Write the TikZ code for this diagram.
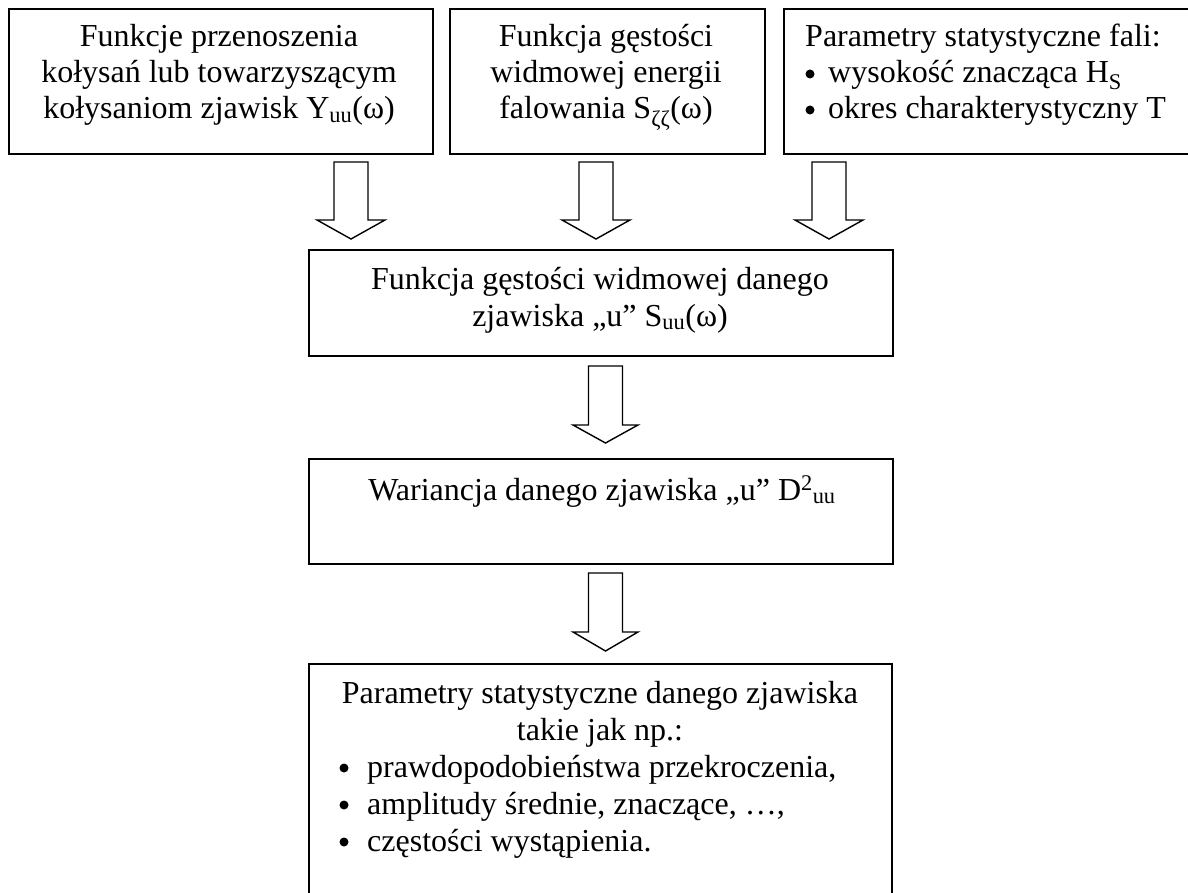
\documentclass[tikz,border=0pt]{standalone}
\usepackage{fontspec}
\setmainfont{Liberation Serif}
\newcommand\blockarr[6]{% x, top, head start, tip, shaft half, head half
  \draw[blk] (#1-#5,#2) -- (#1+#5,#2) -- (#1+#5,#3) -- (#1+#6,#3) -- (#1,#4) -- (#1-#6,#3) -- (#1-#5,#3) -- cycle;}
\begin{document}
\begin{tikzpicture}[x=1pt,y=-1pt,
  box/.style={draw, line width=2pt, anchor=north west, inner sep=0pt},
  txt/.style={inner sep=0pt, anchor=base, font=\fontsize{32}{37}\selectfont},
  txtl/.style={txt, anchor=base west},
  dot/.style={circle, fill=black, draw=none, inner sep=0pt, minimum size=9pt},
  blk/.style={draw, line width=1.4pt, line join=miter, fill=white}]
\useasboundingbox (0,0) rectangle (1188,893);
\fill[white] (0,0) rectangle (1188,893);
\clip (0,0) rectangle (1188,893);

% boxes
\node[box, minimum width=424pt, minimum height=145pt] (b1) at (8,8) {};
\node[box, minimum width=315pt, minimum height=145pt] (b2) at (449,8) {};
\node[box, minimum width=430pt, minimum height=145pt] (b3) at (783,8) {};
\node[box, minimum width=584pt, minimum height=106pt] (bm) at (308,249) {};
\node[box, minimum width=584pt, minimum height=105pt] (bv) at (308,458) {};
\node[box, minimum width=583pt, minimum height=260pt] (bp) at (308,663) {};

% texts, box 1
\node[txt] (t1a) at (219,47) {Funkcje przenoszenia};
\node[txt] (t1b) at (219,83) {kołysań lub towarzyszącym};
\node[txt] (t1c) at (219,119) {kołysaniom zjawisk Y\textsubscript{uu}(ω)};
% box 2
\node[txt] (t2a) at (606,47) {Funkcja gęstości};
\node[txt] (t2b) at (606,83) {widmowej energii};
\node[txt] (t2c) at (606,119) {falowania S\textsubscript{ζζ}(ω)};
% box 3
\node[txtl] (t3a) at (805,47) {Parametry statystyczne fali:};
\node[dot] (d3b) at (810,74) {};
\node[txtl] (t3b) at (828,83) {wysokość znacząca H\textsubscript{S}};
\node[dot] (d3c) at (810,110) {};
\node[txtl] (t3c) at (828,119) {okres charakterystyczny T};
% middle box
\node[txt] (tma) at (600,290) {Funkcja gęstości widmowej danego};
\node[txt] (tmb) at (600,326) {zjawiska „u” S\textsubscript{uu}(ω)};
% variance box
\node[txt] (tv) at (602,500) {Wariancja danego zjawiska „u” D\textsuperscript{2}\textsubscript{uu}};
% parameters box
\node[txt] (tpa) at (600,703) {Parametry statystyczne danego zjawiska};
\node[txt] (tpb) at (600,740) {takie jak np.:};
\node[dot] (dpc) at (344,768) {};
\node[txtl] (tpc) at (367,777) {prawdopodobieństwa przekroczenia,};
\node[dot] (dpd) at (344,805) {};
\node[txtl] (tpd) at (367,814) {amplitudy średnie, znaczące, …,};
\node[dot] (dpe) at (344,842) {};
\node[txtl] (tpe) at (367,851) {częstości wystąpienia.};

% block arrows
\blockarr{351}{162}{220}{239}{17}{34}
\blockarr{596}{162}{220}{239}{17}{34}
\blockarr{829}{162}{220}{239}{17}{34}
\blockarr{605.5}{366}{425}{443}{17}{32.5}
\blockarr{605.5}{573}{632}{651}{17}{32.5}
\end{tikzpicture}
\end{document}
